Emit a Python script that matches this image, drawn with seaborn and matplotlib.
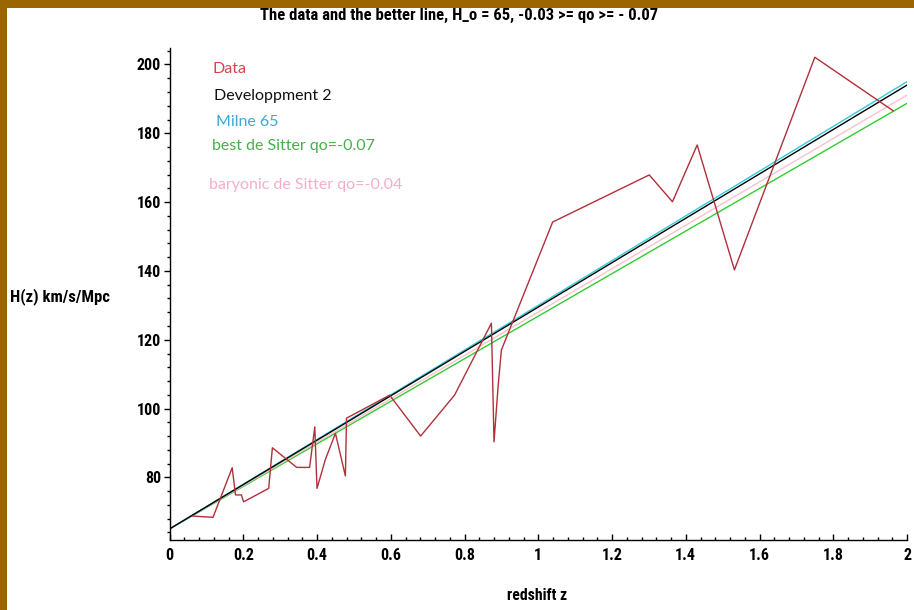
import matplotlib
matplotlib.use("Agg")
import matplotlib.pyplot as plt
import seaborn as sns
from matplotlib.ticker import MultipleLocator
from matplotlib.patches import Rectangle
from matplotlib import font_manager

# ---- data ----
data_z = [0.063, 0.118, 0.170, 0.179, 0.195, 0.201, 0.269, 0.279, 0.345, 0.380,
          0.394, 0.400, 0.423, 0.450, 0.477, 0.480, 0.597, 0.681, 0.773, 0.873,
          0.880, 0.891, 0.900, 1.039, 1.301, 1.364, 1.431, 1.532, 1.750, 1.963]
data_H = [68.75, 68.4, 82.8, 74.9, 74.9, 72.9, 76.8, 88.6, 82.9, 82.9,
          94.7, 76.8, 85.3, 92.8, 80.4, 97.2, 103.9, 92.0, 103.9, 124.8,
          90.3, 106.3, 117.0, 154.2, 167.9, 160.1, 176.6, 140.3, 202.1, 186.5]

line_z = [0.0, 2.0]
milne_H = [65.0, 195.0]
dev2_H = [65.0, 194.0]
baryonic_H = [65.0, 191.1]
best_H = [65.0, 188.7]

legend_labels = ["Data", "Developpment 2", "Milne 65",
                 "best de Sitter qo=-0.07", "baryonic de Sitter qo=-0.04"]
x_ticks = [0, 0.2, 0.4, 0.6, 0.8, 1, 1.2, 1.4, 1.6, 1.8, 2]
x_tick_labels = ["0", "0.2", "0.4", "0.6", "0.8", "1", "1.2", "1.4", "1.6", "1.8", "2"]
y_ticks = [80, 100, 120, 140, 160, 180, 200]

sns.set_style("white")
names = {f.name for f in font_manager.fontManager.ttflist}
cands = ["Liberation Sans Narrow", "DejaVu Sans Condensed", "Roboto Condensed",
         "Open Sans Condensed", "Liberation Sans"]
cond = next((c for c in cands if c in names), "DejaVu Sans")
plt.rcParams["font.family"] = [cond, "DejaVu Sans"]
plt.rcParams["text.color"] = "black"

fig = plt.figure(figsize=(9.14, 6.10), dpi=100)
fig.patch.set_facecolor("white")
ax = fig.add_axes([169.5 / 914, 1 - 540 / 610, (907 - 169.5) / 914, (540 - 48.3) / 610])

# border frame
fig.patches.append(Rectangle((0, 1 - 8 / 610), 1, 8 / 610, transform=fig.transFigure,
                             facecolor="#9B6500", edgecolor="none", zorder=10))
fig.patches.append(Rectangle((0, 0), 7 / 914, 1, transform=fig.transFigure,
                             facecolor="#9B6500", edgecolor="none", zorder=10))

sns.lineplot(x=line_z, y=best_H, ax=ax, color="#33CC33", lw=1.0)
sns.lineplot(x=line_z, y=baryonic_H, ax=ax, color="#F7C3CE", lw=1.0)
sns.lineplot(x=line_z, y=milne_H, ax=ax, color="#33CCDD", lw=1.0)
sns.lineplot(x=line_z, y=dev2_H, ax=ax, color="#000000", lw=1.0)
sns.lineplot(x=data_z, y=data_H, ax=ax, color="#B0303A", lw=1.0, sort=False, estimator=None)

ax.set_xlim(0, 2)
ax.set_ylim(61.8, 204.7)
for s in ["top", "right"]:
    ax.spines[s].set_visible(False)
for s in ["left", "bottom"]:
    ax.spines[s].set_color("black")
    ax.spines[s].set_linewidth(1.0)

tick_kw = dict(fontweight="bold", fontsize=11.5, fontstretch="condensed", color="black")
ax.set_xticks(x_ticks)
ax.set_xticklabels(x_tick_labels, **tick_kw)
ax.set_yticks(y_ticks)
ax.set_yticklabels([str(v) for v in y_ticks], **tick_kw)
ax.xaxis.set_minor_locator(MultipleLocator(0.04))
ax.yaxis.set_minor_locator(MultipleLocator(4))
ax.tick_params(axis="x", which="major", direction="in", length=4, width=1, bottom=True, pad=6, colors="black")
ax.tick_params(axis="x", which="minor", direction="in", length=2.5, width=1, bottom=True, colors="black")
ax.tick_params(axis="y", which="major", direction="out", length=4, width=1, left=True, pad=2, colors="black")
ax.tick_params(axis="y", which="minor", direction="out", length=2.5, width=1, left=True, colors="black")

txt_kw = dict(fontweight="bold", fontstretch="condensed", color="black")
fig.text(459 / 914, 1 - 15 / 610, "The data and the better line, H_o = 65, -0.03 >= qo >= - 0.07",
         ha="center", va="center", fontsize=12, **txt_kw)
fig.text(10 / 914, 1 - 297 / 610, "H(z) km/s/Mpc", ha="left", va="center",
         fontsize=12, **txt_kw)
fig.text(537 / 914, 1 - 596 / 610, "redshift z", ha="center", va="center",
         fontsize=11.3, **txt_kw)

leg_font = ["Lato", "DejaVu Sans"]
leg_colors = ["#D9424B", "#111111", "#3BA7D8", "#45B049", "#F4AECB"]
leg_pos = [(212, 69), (214, 96), (216, 122), (212, 146), (209, 185)]
for lab, col, (px, py) in zip(legend_labels, leg_colors, leg_pos):
    fig.text(px / 914, 1 - py / 610, lab, ha="left", va="center", color=col,
             fontsize=11.5, family=leg_font)

fig.savefig("out.png", dpi=100, facecolor="white")
